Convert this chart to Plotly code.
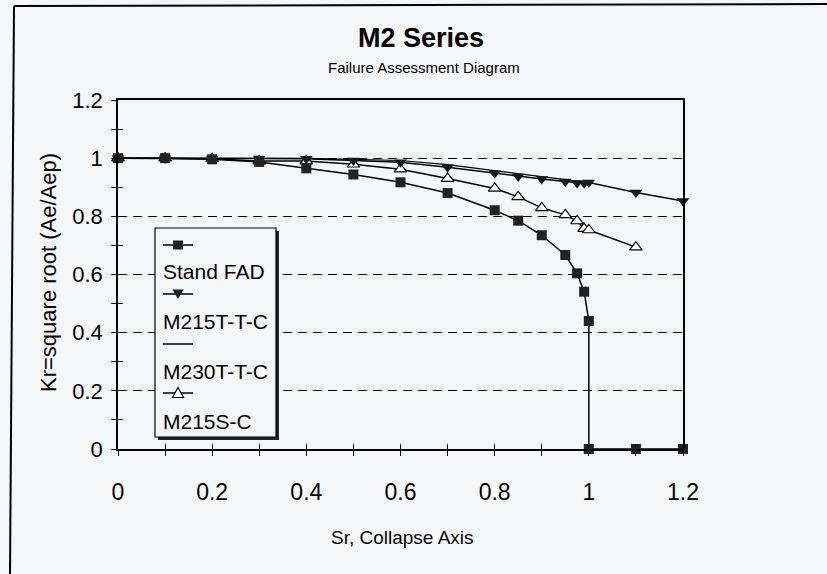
import plotly.graph_objects as go

# ---------------- data ----------------
sr_fad = [0, 0.1, 0.2, 0.3, 0.4, 0.5, 0.6, 0.7, 0.8, 0.85, 0.9, 0.95, 0.975, 0.99, 1.0, 1.0, 1.1, 1.2]
kr_fad = [1.0, 1.0, 0.996, 0.987, 0.965, 0.944, 0.917, 0.88, 0.821, 0.785, 0.735, 0.667, 0.604, 0.541, 0.44, 0, 0, 0]

sr_t15 = [0, 0.1, 0.2, 0.3, 0.4, 0.5, 0.6, 0.7, 0.8, 0.85, 0.9, 0.95, 0.975, 0.99, 1.0, 1.1, 1.2]
kr_t15 = [1.0, 1.0, 0.999, 0.999, 0.998, 0.992, 0.986, 0.969, 0.948, 0.937, 0.928, 0.92, 0.915, 0.914, 0.916, 0.882, 0.853]

sr_t30 = [0, 0.1, 0.2, 0.3, 0.4, 0.5, 0.6, 0.7, 0.8, 0.85, 0.9, 0.95, 0.975, 0.99, 1.0]
kr_t30 = [1.0, 1.0, 1.0, 1.0, 0.999, 0.996, 0.992, 0.978, 0.957, 0.946, 0.936, 0.927, 0.921, 0.918, 0.916]

sr_s15 = [0, 0.1, 0.2, 0.3, 0.4, 0.5, 0.6, 0.7, 0.8, 0.85, 0.9, 0.95, 0.975, 0.99, 1.0, 1.1]
kr_s15 = [1.0, 1.0, 0.998, 0.99, 0.99, 0.979, 0.962, 0.93, 0.896, 0.867, 0.829, 0.805, 0.784, 0.758, 0.753, 0.694]

series_names = ["Stand FAD", "M215T-T-C", "M230T-T-C", "M215S-C"]
x_ticks = [0, 0.2, 0.4, 0.6, 0.8, 1.0, 1.2]
y_ticks = [0, 0.2, 0.4, 0.6, 0.8, 1.0, 1.2]

# ---------------- layout geometry ----------------
W, H = 827, 574
L, R, T, B = 118, 144, 100, 125
PW = W - L - R
PH = H - T - B
BG = "#f5f6f8"
FONT = "Liberation Sans, Arial, sans-serif"


def px(x):
    return (x - L) / PW


def py(y):
    return (H - B - y) / PH


fig = go.Figure()
ln = dict(color="black", width=1.5)

fig.add_trace(go.Scatter(x=sr_s15, y=kr_s15, mode="lines+markers", name=series_names[3],
                         line=ln, marker=dict(symbol="triangle-up", size=11, color="white",
                                              line=dict(color="black", width=1.2)),
                         cliponaxis=False, showlegend=False))
fig.add_trace(go.Scatter(x=sr_t30, y=kr_t30, mode="lines", name=series_names[2],
                         line=dict(color="black", width=1.2), cliponaxis=False, showlegend=False))
fig.add_trace(go.Scatter(x=sr_t15, y=kr_t15, mode="lines+markers", name=series_names[1],
                         line=ln, marker=dict(symbol="triangle-down", size=11, color="#1a1a1a"),
                         cliponaxis=False, showlegend=False))
fig.add_trace(go.Scatter(x=sr_fad, y=kr_fad, mode="lines+markers", name=series_names[0],
                         line=ln, marker=dict(symbol="square", size=10, color="#222222"),
                         cliponaxis=False, showlegend=False))
# helper trace for the inner half of the cross ticks
fig.add_trace(go.Scatter(x=[None], y=[None], xaxis="x2", yaxis="y2", showlegend=False,
                         hoverinfo="skip"))

axis_common = dict(range=[0, 1.2], showline=True, linecolor="black", linewidth=1.5,
                   mirror=True, ticks="outside", ticklen=5, tickcolor="black", tickwidth=1.2,
                   tickvals=x_ticks, zeroline=False, automargin=False,
                   minor=dict(dtick=0.1, tick0=0, ticks="outside", ticklen=5,
                              tickcolor="black", tickwidth=1.2))

fig.update_layout(
    width=W, height=H, template="none",
    margin=dict(l=L, r=R, t=T, b=B, pad=0),
    paper_bgcolor=BG, plot_bgcolor=BG,
    font=dict(family=FONT, color="black"),
    showlegend=False,
    xaxis=dict(axis_common, showgrid=False, ticklabelstandoff=17,
               tickfont=dict(size=23, color="black", family=FONT)),
    yaxis=dict(axis_common, tickvals=y_ticks, showgrid=True, gridcolor="black", gridwidth=1.2,
               griddash="9px,6px", ticklabelstandoff=4,
               tickfont=dict(size=22, color="black", family=FONT)),
    xaxis2=dict(range=[0, 1.2], overlaying="x", anchor="y2", side="bottom", ticks="inside",
                ticklen=5, tickcolor="black", tickwidth=1.2, dtick=0.1, tick0=0,
                showticklabels=False, showline=False, showgrid=False, zeroline=False,
                automargin=False),
    yaxis2=dict(range=[0, 1.2], overlaying="y", anchor="x2", side="left", ticks="inside",
                ticklen=5, tickcolor="black", tickwidth=1.2, dtick=0.1, tick0=0,
                showticklabels=False, showline=False, showgrid=False, zeroline=False,
                automargin=False),
)

shapes = []
annotations = []

# outer frame of the scanned figure
shapes.append(dict(type="line", xref="paper", yref="paper", x0=px(14), y0=py(6), x1=px(830), y1=py(4),
                   line=dict(color="black", width=2)))
shapes.append(dict(type="line", xref="paper", yref="paper", x0=px(14), y0=py(6), x1=px(10), y1=py(576),
                   line=dict(color="black", width=2)))

# legend box with shadow
lx0, ly0, lx1, ly1 = 155, 228, 276, 437
shapes.append(dict(type="rect", xref="paper", yref="paper", layer="above",
                   x0=px(lx0 + 3), y0=py(ly1 + 3), x1=px(lx1 + 3), y1=py(ly0 + 3),
                   fillcolor="#222222", line=dict(width=0)))
shapes.append(dict(type="rect", xref="paper", yref="paper", layer="above",
                   x0=px(lx0), y0=py(ly1), x1=px(lx1), y1=py(ly0),
                   fillcolor=BG, line=dict(color="black", width=1.2)))

sample_y = [245, 294, 344, 393]
text_y = [271, 321, 371, 421]
for i, name in enumerate(series_names):
    ys = sample_y[i]
    shapes.append(dict(type="line", xref="paper", yref="paper", layer="above",
                       x0=px(163), x1=px(193), y0=py(ys), y1=py(ys),
                       line=dict(color="black", width=1.5)))
    cx = 178
    if i == 0:
        shapes.append(dict(type="rect", xref="paper", yref="paper", layer="above",
                           x0=px(cx - 5), x1=px(cx + 5), y0=py(ys + 4.5), y1=py(ys - 4.5),
                           fillcolor="#222222", line=dict(width=0)))
    elif i == 1:
        path = "M {} {} L {} {} L {} {} Z".format(px(cx - 5.5), py(ys - 4.5), px(cx + 5.5),
                                                  py(ys - 4.5), px(cx), py(ys + 5))
        shapes.append(dict(type="path", xref="paper", yref="paper", layer="above", path=path,
                           fillcolor="#1a1a1a", line=dict(width=0)))
    elif i == 3:
        path = "M {} {} L {} {} L {} {} Z".format(px(cx - 5.5), py(ys + 4.5), px(cx + 5.5),
                                                  py(ys + 4.5), px(cx), py(ys - 5.5))
        shapes.append(dict(type="path", xref="paper", yref="paper", layer="above", path=path,
                           fillcolor="white", line=dict(color="black", width=1.2)))
    annotations.append(dict(text=name, xref="paper", yref="paper", x=px(161), y=py(text_y[i]),
                            xanchor="left", yanchor="middle", showarrow=False,
                            font=dict(size=21, family=FONT, color="black")))

# titles
annotations.append(dict(text="<b>M2 Series</b>", xref="paper", yref="paper", x=px(421), y=py(38),
                        xanchor="center", yanchor="middle", showarrow=False,
                        font=dict(size=27, family=FONT, color="black")))
annotations.append(dict(text="Failure Assessment Diagram", xref="paper", yref="paper", x=px(424),
                        y=py(68), xanchor="center", yanchor="middle", showarrow=False,
                        font=dict(size=15, family=FONT, color="black")))
annotations.append(dict(text="Sr, Collapse Axis", xref="paper", yref="paper", x=px(402), y=py(537),
                        xanchor="center", yanchor="middle", showarrow=False,
                        font=dict(size=19, family=FONT, color="black")))
annotations.append(dict(text="Kr=square root (Ae/Aep)", xref="paper", yref="paper", x=px(48),
                        y=py(273), xanchor="center", yanchor="middle", showarrow=False,
                        textangle=-90, font=dict(size=22, family=FONT, color="black")))

fig.update_layout(shapes=shapes, annotations=annotations)
fig.write_html("out.html", config={"displayModeBar": False},
               post_script="document.body.style.margin='0';"
                           "document.body.style.background='" + BG + "';")
